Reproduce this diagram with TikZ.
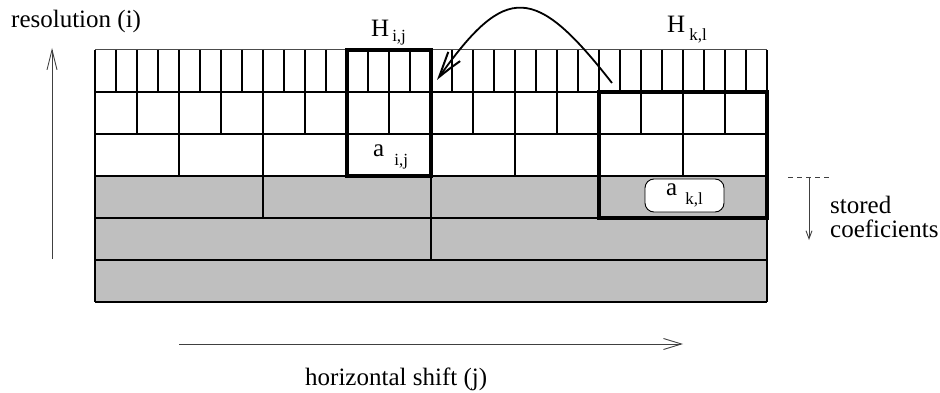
\documentclass[tikz,border=0pt]{standalone}
\usepackage{fontspec}
\setmainfont{Liberation Serif}
\usetikzlibrary{arrows.meta,bending}
\definecolor{cellgray}{RGB}{191,191,191}
\newcommand\subf{\fontsize{17}{17}\selectfont}
\begin{document}
\begin{tikzpicture}[x=1pt,y=-1pt,
  font=\fontsize{25}{28}\selectfont,
  gridline/.style={line width=1.1pt},
  boldbox/.style={line width=3.6pt},
  txt/.style={inner sep=0pt, anchor=base west},
  axisline/.style={line width=0.9pt, draw=black!75}]
\useasboundingbox (0,0) rectangle (940,393);
% stored (gray) rows
\fill[cellgray] (95,176) rectangle (767,302);
% horizontal lines of the grid
\foreach \y in {92,134,...,302} \draw[gridline] (95,\y) -- (767,\y);
\draw[line width=1pt, draw=black!70] (95,50) -- (767,50);
\draw[gridline] (95,50) -- (95,302);
\draw[gridline] (767,50) -- (767,302);
% vertical dividers, row by row
\foreach \r/\n in {0/32,1/16,2/8,3/4,4/2}{
  \pgfmathsetmacro\w{672/\n}
  \pgfmathtruncatemacro\m{\n-1}
  \foreach \c in {1,...,\m}
    \draw[gridline] (95+\c*\w, 50+42*\r) -- (95+\c*\w, 92+42*\r);
}
% bold boxes
\draw[boldbox] (347,50) rectangle (431,176);
\draw[boldbox] (599,92) rectangle (767,218);
% labels
\node[txt] (res) at (11,28) {resolution (i)};
\node[txt] (hij) at (371,37) {H\hspace{3pt}\raisebox{-5pt}{\subf i,j}};
\node[txt] (hkl) at (667,33) {H\hspace{4pt}\raisebox{-8pt}{\subf k,l}};
\node[txt] (aij) at (373,157) {a\hspace{10pt}\raisebox{-9pt}{\subf i,j}};
\node[draw, fill=white, rounded corners=9pt, line width=0.9pt,
      minimum width=79pt, minimum height=33pt, inner sep=0pt]
      (akl) at (684.5,195.5) {a\hspace{8pt}\raisebox{-9pt}{\subf k,l}};
\node[txt] (hs) at (305,385) {horizontal shift (j)};
\node[txt] (st) at (830,213) {stored};
\node[txt] (co) at (830,237) {coeficients};
% curved arrow from H_kl to H_ij
\coordinate (cs) at (612,83);
\coordinate (ce) at (437,80);
\draw[line width=1.8pt, -{Straight Barb[length=27pt,width=15pt,line width=2pt,bend]}]
  (cs) .. controls (534,-17) and (505,-17) .. (ce);
% resolution axis
\coordinate (r0) at (52,259);
\coordinate (r1) at (52,48);
\draw[axisline, -{Straight Barb[length=20pt,width=10pt]}] (r0) -- (r1);
% horizontal shift axis
\coordinate (h0) at (179,344);
\coordinate (h1) at (683,344);
\draw[axisline, -{Straight Barb[length=18pt,width=11pt]}] (h0) -- (h1);
% stored coefficients marker
\coordinate (d0) at (788,177);
\coordinate (d1) at (830,177);
\draw[axisline, dash pattern=on 5pt off 4pt] (d0) -- (d1);
\coordinate (s0) at (809,177);
\coordinate (s1) at (809,240);
\draw[axisline, -{Straight Barb[length=8pt,width=6pt]}] (s0) -- (s1);
\end{tikzpicture}
\end{document}
